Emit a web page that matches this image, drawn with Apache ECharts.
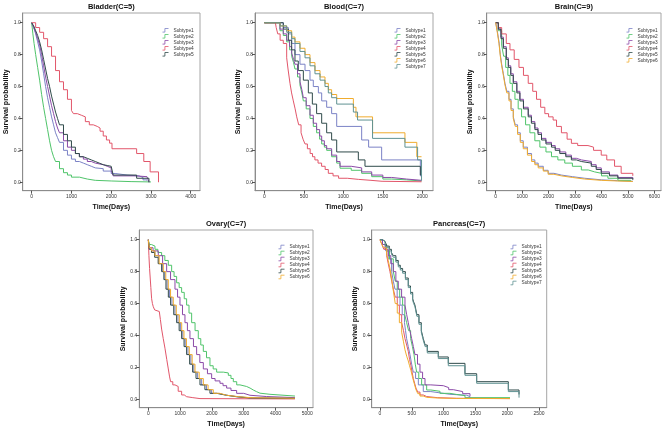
<!DOCTYPE html>
<html>
<head>
<meta charset="utf-8">
<script src="https://cdn.jsdelivr.net/npm/echarts@6/dist/echarts.min.js"></script>
<style>
html,body{margin:0;padding:0;background:#fff;}
#c{width:669px;height:432px;}
</style>
</head>
<body>
<div id="c"></div>
<script>
// ---------------- tick labels ----------------
const yTicks = [0, 0.2, 0.4, 0.6, 0.8, 1.0];
const bladderTicks = [0, 1000, 2000, 3000, 4000];
const bloodTicks = [0, 500, 1000, 1500, 2000];
const brainTicks = [0, 1000, 2000, 3000, 4000, 5000, 6000];
const ovaryTicks = [0, 1000, 2000, 3000, 4000, 5000];
const pancreasTicks = [0, 500, 1000, 1500, 2000, 2500];

const subtypeNames = ['Subtype1','Subtype2','Subtype3','Subtype4','Subtype5','Subtype6','Subtype7'];
const panelTitles = ['Bladder(C=5)','Blood(C=7)','Brain(C=9)','Ovary(C=7)','Pancreas(C=7)'];

// ---------------- Bladder ----------------
const bladderS1 = [[0,1],[50,0.97],[100,0.93],[150,0.88],[200,0.83],[250,0.76],[300,0.68],[350,0.6],[400,0.53],[450,0.47],[500,0.41],[550,0.36],[600,0.31],[650,0.28],[700,0.25],[800,0.2],[900,0.17],[1000,0.145],[1100,0.13],[1200,0.12],[1300,0.11],[1400,0.1],[1500,0.09],[1600,0.085],[1800,0.07],[2000,0.055],[2100,0.045],[2400,0.04],[2700,0.03],[2800,0.015],[2900,0.01]];
const bladderS2 = [[0,1],[30,0.93],[60,0.87],[100,0.8],[150,0.72],[200,0.64],[250,0.55],[300,0.47],[350,0.4],[400,0.33],[450,0.26],[500,0.2],[550,0.16],[600,0.13],[700,0.085],[800,0.06],[900,0.045],[1000,0.032],[1200,0.02],[1400,0.012],[1600,0.008],[2000,0.004],[2500,0.002],[3000,0]];
const bladderS3 = [[0,1],[50,0.97],[100,0.94],[150,0.9],[200,0.86],[250,0.8],[300,0.73],[350,0.66],[400,0.6],[450,0.54],[500,0.48],[550,0.43],[600,0.38],[650,0.34],[700,0.31],[800,0.26],[900,0.22],[1000,0.2],[1100,0.18],[1200,0.16],[1300,0.145],[1400,0.13],[1500,0.12],[1600,0.11],[1800,0.1],[1900,0.09],[2000,0.075],[2050,0.04],[2600,0.035],[2900,0.03],[2950,0]];
const bladderS4 = [[0,1],[100,0.97],[200,0.94],[300,0.9],[400,0.85],[500,0.79],[600,0.7],[700,0.63],[800,0.58],[900,0.52],[1000,0.45],[1050,0.43],[1150,0.42],[1250,0.41],[1350,0.38],[1450,0.36],[1550,0.35],[1650,0.34],[1720,0.32],[1800,0.29],[1880,0.265],[1960,0.245],[2020,0.21],[2640,0.18],[2820,0.13],[2980,0.065],[3190,0]];
const bladderS5 = [[0,1],[50,0.98],[100,0.95],[150,0.92],[200,0.88],[250,0.83],[300,0.77],[350,0.71],[400,0.65],[450,0.6],[500,0.54],[550,0.49],[600,0.44],[650,0.4],[700,0.36],[800,0.3],[900,0.26],[1000,0.22],[1100,0.18],[1200,0.16],[1300,0.15],[1400,0.14],[1500,0.13],[1600,0.12],[1700,0.11],[1800,0.105],[1900,0.1],[2000,0.09],[2050,0.045],[2640,0.025],[2950,0]];

// ---------------- Blood ----------------
const bloodS1 = [[0,1],[150,1],[240,0.97],[304,0.93],[346,0.87],[388,0.8],[451,0.74],[515,0.7],[578,0.64],[620,0.6],[684,0.56],[726,0.51],[789,0.47],[852,0.43],[916,0.35],[1232,0.265],[1320,0.22],[1485,0.14],[1975,0.04],[1990,0.04]];
const bloodS2 = [[0,1],[150,1],[198,0.95],[240,0.92],[283,0.88],[320,0.83],[346,0.79],[370,0.75],[388,0.71],[420,0.66],[451,0.61],[475,0.56],[494,0.51],[530,0.46],[578,0.4],[620,0.35],[662,0.31],[700,0.27],[726,0.24],[760,0.22],[789,0.2],[852,0.16],[916,0.12],[958,0.088],[1100,0.075],[1232,0.056],[1359,0.035],[1500,0.02],[1612,0.015],[1800,0.008],[1990,0.004]];
const bloodS3 = [[0,1],[150,1],[198,0.96],[240,0.93],[283,0.89],[320,0.85],[346,0.81],[370,0.77],[388,0.74],[420,0.68],[451,0.63],[475,0.58],[494,0.53],[530,0.48],[578,0.42],[620,0.37],[662,0.33],[700,0.29],[726,0.26],[760,0.23],[789,0.21],[852,0.17],[916,0.13],[958,0.1],[1100,0.09],[1232,0.065],[1359,0.045],[1500,0.03],[1612,0.02],[1800,0.012],[1990,0.01]];
const bloodS4 = [[0,1],[140,1],[150,0.97],[170,0.93],[200,0.89],[240,0.87],[283,0.78],[300,0.71],[325,0.62],[345,0.56],[367,0.51],[390,0.46],[410,0.41],[435,0.36],[465,0.31],[490,0.27],[515,0.24],[545,0.21],[580,0.18],[610,0.16],[640,0.14],[680,0.12],[725,0.1],[770,0.08],[810,0.056],[870,0.04],[940,0.025],[1050,0.018],[1190,0.012],[1350,0.006],[1490,0.003],[1990,0]];
const bloodS5 = [[0,1],[150,1],[240,0.96],[304,0.89],[346,0.83],[388,0.76],[430,0.7],[494,0.64],[557,0.56],[608,0.49],[662,0.43],[726,0.37],[789,0.31],[852,0.265],[916,0.19],[1190,0.14],[1274,0.1],[1975,0.046],[1990,0.046]];
const bloodS6 = [[0,1],[150,1],[200,0.98],[283,0.95],[346,0.91],[388,0.88],[451,0.84],[515,0.8],[578,0.75],[641,0.7],[705,0.66],[768,0.62],[810,0.58],[852,0.55],[916,0.525],[1127,0.47],[1160,0.41],[1370,0.31],[1780,0.25],[1930,0.16],[1990,0.16]];
const bloodS7 = [[0,1],[150,1],[200,0.98],[283,0.94],[346,0.9],[388,0.87],[451,0.82],[515,0.78],[578,0.73],[641,0.68],[705,0.64],[768,0.6],[810,0.56],[852,0.53],[916,0.49],[1127,0.44],[1180,0.39],[1370,0.275],[1780,0.22],[1940,0.14],[1990,0.01]];

// ---------------- Brain ----------------
const brainS1 = [[0,1],[60,0.95],[125,0.88],[175,0.8],[226,0.74],[290,0.68],[351,0.62],[420,0.57],[502,0.52],[580,0.46],[665,0.41],[740,0.36],[828,0.31],[930,0.26],[1042,0.22],[1200,0.18],[1356,0.14],[1480,0.12],[1607,0.1],[1800,0.075],[1983,0.056],[2200,0.045],[2485,0.035],[2900,0.025],[3364,0.015],[4000,0.01],[4600,0.006],[5184,0.004]];
const brainS2 = [[0,1],[100,0.95],[226,0.86],[300,0.79],[377,0.72],[460,0.67],[540,0.62],[630,0.57],[728,0.52],[850,0.46],[979,0.41],[1130,0.36],[1293,0.31],[1480,0.26],[1670,0.22],[1900,0.19],[2109,0.16],[2350,0.14],[2611,0.12],[2900,0.1],[3238,0.077],[3500,0.065],[3740,0.056],[4000,0.04],[4243,0.025],[4620,0.012],[5100,0.005]];
const brainS3 = [[0,1],[100,0.96],[200,0.91],[289,0.85],[400,0.78],[477,0.73],[570,0.68],[665,0.63],[800,0.57],[916,0.52],[1050,0.47],[1230,0.42],[1350,0.38],[1481,0.34],[1600,0.31],[1732,0.275],[1900,0.25],[2109,0.23],[2250,0.21],[2422,0.19],[2650,0.17],[2862,0.15],[3050,0.14],[3238,0.13],[3615,0.11],[3800,0.09],[3991,0.065],[4300,0.045],[4619,0.03],[5184,0.02]];
const brainS4 = [[0,1],[100,0.97],[226,0.93],[400,0.87],[540,0.83],[700,0.77],[880,0.72],[1050,0.67],[1230,0.62],[1400,0.57],[1544,0.52],[1700,0.47],[1858,0.43],[2000,0.41],[2171,0.39],[2300,0.35],[2485,0.31],[2700,0.27],[2862,0.244],[3100,0.23],[3489,0.22],[3700,0.2],[3990,0.17],[4200,0.14],[4494,0.1],[4744,0.056],[5184,0.04]];
const brainS5 = [[0,1],[100,0.96],[200,0.9],[289,0.84],[400,0.77],[477,0.72],[570,0.67],[665,0.62],[800,0.56],[916,0.51],[1050,0.46],[1230,0.41],[1350,0.37],[1481,0.33],[1600,0.3],[1732,0.265],[1900,0.24],[2109,0.22],[2250,0.2],[2422,0.18],[2650,0.16],[2862,0.14],[3050,0.13],[3238,0.12],[3615,0.1],[3800,0.08],[3991,0.056],[4300,0.04],[4619,0.025],[5184,0.015]];
const brainS6 = [[0,1],[60,0.94],[125,0.87],[175,0.79],[226,0.73],[290,0.67],[351,0.61],[420,0.56],[502,0.51],[580,0.45],[665,0.4],[740,0.35],[828,0.3],[930,0.25],[1042,0.21],[1200,0.17],[1356,0.13],[1480,0.11],[1607,0.09],[1800,0.07],[1983,0.05],[2200,0.04],[2485,0.03],[2900,0.02],[3364,0.012],[4000,0.008],[4600,0.005],[5184,0.003]];

// ---------------- Ovary ----------------
const ovaryS1 = [[0,1],[30,0.95],[100,0.93],[205,0.9],[325,0.85],[445,0.8],[520,0.75],[592,0.69],[665,0.64],[744,0.59],[840,0.53],[933,0.48],[1010,0.43],[1085,0.38],[1162,0.33],[1247,0.28],[1340,0.22],[1431,0.17],[1550,0.13],[1677,0.09],[1830,0.06],[1990,0.037],[2200,0.025],[2463,0.016],[2800,0.009],[3200,0.006],[4612,0.005]];
const ovaryS2 = [[0,1],[30,0.97],[100,0.96],[210,0.94],[300,0.92],[419,0.9],[520,0.87],[629,0.84],[734,0.8],[810,0.77],[891,0.73],[970,0.7],[1048,0.67],[1130,0.63],[1205,0.59],[1280,0.54],[1363,0.48],[1470,0.43],[1572,0.38],[1650,0.34],[1730,0.3],[1830,0.26],[1939,0.21],[2040,0.19],[2149,0.17],[2358,0.165],[2516,0.15],[2600,0.13],[2673,0.11],[2780,0.09],[2883,0.08],[3092,0.07],[3200,0.058],[3302,0.048],[3400,0.038],[3512,0.031],[3826,0.02],[4612,0.017]];
const ovaryS3 = [[0,1],[30,0.95],[150,0.93],[314,0.9],[450,0.85],[577,0.8],[700,0.75],[839,0.69],[920,0.64],[996,0.59],[1075,0.53],[1153,0.48],[1230,0.43],[1310,0.38],[1420,0.33],[1520,0.28],[1620,0.23],[1730,0.19],[1860,0.16],[1992,0.13],[2100,0.115],[2254,0.1],[2350,0.085],[2463,0.07],[2600,0.055],[2778,0.037],[3000,0.025],[3197,0.017],[3721,0.01],[4612,0.008]];
const ovaryS4 = [[0,1],[20,0.9],[40,0.82],[60,0.76],[80,0.7],[105,0.63],[130,0.6],[157,0.58],[200,0.56],[262,0.55],[346,0.54],[380,0.5],[419,0.44],[470,0.38],[524,0.32],[580,0.25],[629,0.19],[670,0.14],[702,0.11],[770,0.09],[839,0.08],[940,0.05],[1048,0.027],[1130,0.016],[1205,0.01],[1400,0.004],[1625,0.002],[4612,0.002]];
const ovaryS5 = [[0,1],[30,0.94],[100,0.92],[200,0.89],[310,0.85],[419,0.8],[490,0.75],[556,0.69],[630,0.64],[702,0.59],[800,0.53],[891,0.48],[970,0.43],[1048,0.38],[1125,0.33],[1205,0.28],[1300,0.22],[1394,0.17],[1500,0.13],[1625,0.09],[1780,0.06],[1939,0.037],[2150,0.025],[2463,0.015],[2800,0.008],[3200,0.005],[4612,0.004]];
const ovaryS6 = [[0,1],[30,0.95],[100,0.93],[210,0.9],[340,0.85],[472,0.8],[550,0.75],[629,0.69],[700,0.64],[786,0.59],[880,0.53],[975,0.48],[1050,0.43],[1122,0.38],[1200,0.33],[1289,0.28],[1380,0.22],[1468,0.17],[1600,0.13],[1730,0.09],[1880,0.06],[2044,0.037],[2250,0.025],[2463,0.017],[2800,0.01],[3197,0.006],[4612,0.005]];

// ---------------- Pancreas ----------------
const pancreasS1 = [[0,1],[40,0.97],[90,0.93],[130,0.88],[183,0.8],[210,0.74],[236,0.69],[270,0.64],[315,0.59],[350,0.53],[385,0.48],[402,0.43],[419,0.38],[445,0.33],[472,0.28],[498,0.22],[524,0.17],[560,0.13],[603,0.09],[681,0.048],[800,0.04],[943,0.031],[1100,0.025],[1363,0.017],[1415,0.01]];
const pancreasS2 = [[0,1],[40,0.97],[100,0.93],[150,0.88],[210,0.8],[240,0.74],[272,0.69],[310,0.64],[356,0.59],[390,0.53],[419,0.48],[450,0.43],[482,0.38],[510,0.33],[535,0.28],[555,0.22],[577,0.17],[610,0.13],[655,0.09],[734,0.058],[800,0.05],[943,0.037],[1100,0.03],[1205,0.023],[1336,0.01],[2044,0.008]];
const pancreasS3 = [[0,1],[40,0.97],[80,0.94],[131,0.9],[170,0.85],[210,0.8],[250,0.74],[288,0.69],[340,0.64],[393,0.59],[420,0.53],[445,0.48],[470,0.43],[498,0.38],[525,0.33],[550,0.28],[590,0.22],[629,0.17],[670,0.13],[708,0.09],[800,0.085],[996,0.073],[1080,0.06],[1153,0.048],[1300,0.035],[1415,0.02]];
const pancreasS4 = [[0,1],[30,0.97],[60,0.94],[105,0.9],[130,0.85],[157,0.8],[185,0.74],[210,0.69],[240,0.64],[272,0.59],[305,0.53],[341,0.48],[370,0.43],[393,0.38],[420,0.34],[445,0.3],[465,0.25],[487,0.21],[505,0.17],[524,0.13],[545,0.1],[566,0.07],[595,0.045],[629,0.027],[680,0.017],[734,0.01],[900,0.006],[1200,0.004],[2044,0.003]];
const pancreasS5 = [[0,1],[40,0.99],[79,0.98],[110,0.96],[147,0.94],[180,0.92],[210,0.9],[250,0.87],[288,0.84],[320,0.82],[356,0.8],[400,0.76],[445,0.71],[480,0.67],[514,0.63],[530,0.61],[550,0.59],[580,0.53],[613,0.48],[650,0.43],[681,0.38],[710,0.34],[744,0.3],[917,0.265],[1074,0.225],[1336,0.16],[1520,0.11],[2018,0.058],[2186,0.03]];
const pancreasS6 = [[0,1],[30,0.97],[60,0.95],[105,0.91],[130,0.87],[157,0.82],[185,0.75],[210,0.68],[240,0.6],[272,0.54],[305,0.48],[341,0.42],[370,0.36],[393,0.31],[420,0.27],[445,0.24],[465,0.21],[487,0.18],[505,0.15],[524,0.12],[545,0.09],[566,0.06],[595,0.035],[629,0.02],[680,0.012],[734,0.008],[900,0.005],[1200,0.004],[2044,0.003]];
const pancreasS7 = [[0,1],[40,0.99],[79,0.97],[110,0.95],[147,0.93],[180,0.91],[210,0.89],[250,0.86],[288,0.83],[320,0.81],[356,0.79],[400,0.75],[445,0.7],[480,0.66],[514,0.62],[530,0.6],[550,0.58],[580,0.52],[613,0.47],[650,0.42],[681,0.37],[710,0.33],[744,0.29],[917,0.255],[1074,0.21],[1336,0.15],[1520,0.1],[2018,0.048],[2186,0.01]];

// ---------------- styles / layout ----------------
const COLORS = ['#7b82c6', '#4fc46a', '#8b4aa8', '#e2566a', '#2f4a4a', '#f0ac2e', '#5f9292'];
const FONT = '"Liberation Sans", Arial, Helvetica, sans-serif';
const STEP_ICON = 'path://M0,6L4,6L4,0L10,0';

const panels = [
  { title: panelTitles[0], l: 22.7, t: 13, r: 200, b: 190.7, xMin: -226, xMax: 4234, ticks: bladderTicks,
    data: [bladderS1, bladderS2, bladderS3, bladderS4, bladderS5], lgL: 160, lgT: 26 },
  { title: panelTitles[1], l: 255, t: 13, r: 433, b: 190.7, xMin: -118, xMax: 2135, ticks: bloodTicks,
    data: [bloodS1, bloodS2, bloodS3, bloodS4, bloodS5, bloodS6, bloodS7], lgL: 392, lgT: 26 },
  { title: panelTitles[2], l: 486.7, t: 13, r: 661, b: 190.7, xMin: -340, xMax: 6250, ticks: brainTicks,
    data: [brainS1, brainS2, brainS3, brainS4, brainS5, brainS6], lgL: 624, lgT: 26 },
  { title: panelTitles[3], l: 139.3, t: 230, r: 313, b: 407.7, xMin: -283, xMax: 5179, ticks: ovaryTicks,
    data: [ovaryS1, ovaryS2, ovaryS3, ovaryS4, ovaryS5, ovaryS6], lgL: 276, lgT: 242.7 },
  { title: panelTitles[4], l: 371.7, t: 230, r: 546.7, b: 407.7, xMin: -130, xMax: 2621, ticks: pancreasTicks,
    data: [pancreasS1, pancreasS2, pancreasS3, pancreasS4, pancreasS5, pancreasS6, pancreasS7], lgL: 508, lgT: 242.7 }
];

const grid = [], xAxis = [], yAxis = [], series = [], legend = [], graphic = [];
panels.forEach((p, gi) => {
  grid.push({ left: p.l, top: p.t, width: p.r - p.l, height: p.b - p.t, show: true,
    borderColor: '#a6a6a6', borderWidth: 1, backgroundColor: 'transparent', containLabel: false, outerBoundsMode: 'none' });
  xAxis.push({ type: 'value', gridIndex: gi, min: p.xMin, max: p.xMax,
    name: 'Time(Days)', nameLocation: 'middle', nameGap: 12.5,
    nameTextStyle: { fontFamily: FONT, fontWeight: 'bold', fontSize: 7, color: '#111' },
    axisLine: { show: true, onZero: false, lineStyle: { color: '#8c8c8c', width: 1 } },
    axisTick: { show: true, inside: false, length: 3, customValues: p.ticks, lineStyle: { color: '#555' } },
    axisLabel: { show: true, customValues: p.ticks, fontSize: 5, fontFamily: FONT, color: '#333', margin: 3,
      formatter: v => String(Math.round(v)) },
    splitLine: { show: false } });
  yAxis.push({ type: 'value', gridIndex: gi, min: -0.053, max: 1.061,
    name: 'Survival probability', nameLocation: 'middle', nameGap: 13,
    nameTextStyle: { fontFamily: FONT, fontWeight: 'bold', fontSize: 7, color: '#111' },
    axisLine: { show: true, onZero: false, lineStyle: { color: '#8c8c8c', width: 1 } },
    axisTick: { show: true, inside: false, length: 3, customValues: yTicks, lineStyle: { color: '#555' } },
    axisLabel: { show: true, customValues: yTicks, fontSize: 5, fontFamily: FONT, color: '#333', margin: 2,
      formatter: v => Number(v).toFixed(1) },
    splitLine: { show: false } });
  const names = p.data.map((d, i) => subtypeNames[i]);
  p.data.forEach((d, si) => {
    series.push({ type: 'line', name: names[si], xAxisIndex: gi, yAxisIndex: gi, data: d, step: 'end',
      showSymbol: false, symbol: 'none', silent: true, animation: false, clip: true,
      lineStyle: { width: 1, color: COLORS[si] }, itemStyle: { color: COLORS[si] } });
  });
  legend.push({ orient: 'vertical', left: p.lgL, top: p.lgT, padding: 0, itemWidth: 6, itemHeight: 4,
    itemGap: -2.6, selectedMode: false, icon: STEP_ICON,
    textStyle: { fontFamily: FONT, fontSize: 4.8, lineHeight: 6, color: '#333' },
    data: names.map((n, i) => ({ name: n, itemStyle: { color: 'none', borderColor: COLORS[i], borderWidth: 0.8 } })) });
  graphic.push({ type: 'text', x: (p.l + p.r) / 2, y: p.t - 6,
    style: { text: p.title, fill: '#111', font: 'bold 7.5px ' + FONT, textAlign: 'center', textVerticalAlign: 'middle' } });
});

const chart = echarts.init(document.getElementById('c'), null, { renderer: 'canvas' });
chart.setOption({
  backgroundColor: '#ffffff',
  animation: false,
  grid, xAxis, yAxis, series, legend, graphic
});
</script>
</body>
</html>
